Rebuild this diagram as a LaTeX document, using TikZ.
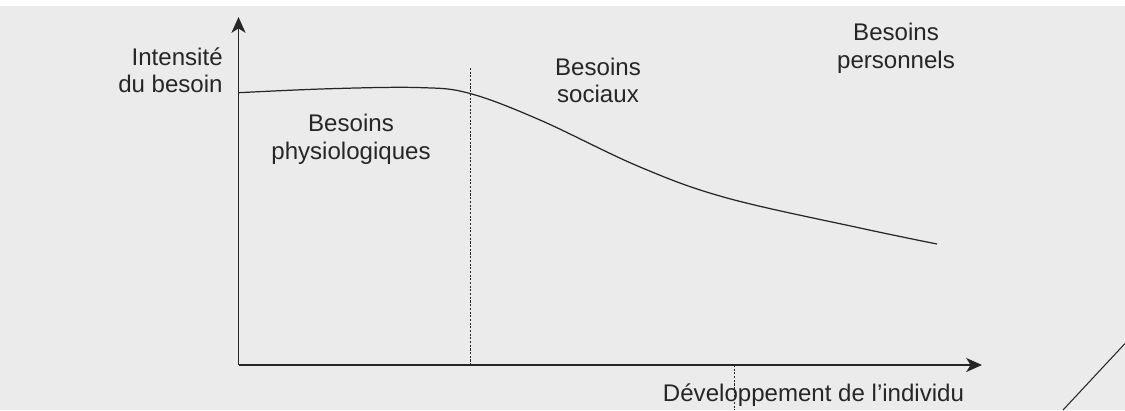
\documentclass[tikz,border=0pt]{standalone}
\usepackage{fontspec}
\setmainfont{Liberation Sans}
\usetikzlibrary{arrows.meta}
\definecolor{bggray}{HTML}{EBEBEB}
\definecolor{ink}{HTML}{262626}
\tikzset{
  lbl/.style={text=ink, inner sep=0pt, align=center, anchor=base,
    font=\fontsize{13.7}{15.6}\selectfont},
  axis/.style={draw=ink, line width=0.85pt, -{Stealth[length=9pt,width=8pt,inset=2.5pt]}},
  sep/.style={draw=ink, line width=0.5pt, dash pattern=on 1.2pt off 0.9pt}
}
\begin{document}
\begin{tikzpicture}[x=0.02cm,y=-0.02cm]
   \useasboundingbox (0,0) rectangle (1125,410);
   \fill[bggray] (0,6) rectangle (1125,410);
   % axes
   \coordinate (O) at (238.5,365);
   \coordinate (ytip) at (238.5,17);
   \coordinate (xtip) at (982,365);
   \draw[axis] (O) -- (ytip);
   \draw[axis] (O) -- (xtip);
   % separations
   \coordinate (s1top) at (470.5,68);
   \coordinate (s1bot) at (470.5,365);
   \coordinate (s2top) at (734,365);
   \coordinate (s2bot) at (734,410);
   \draw[sep] (s1top) -- (s1bot);
   \draw[sep] (s2top) -- (s2bot);
   % need curve
   \draw[ink, line width=0.7pt] plot[smooth, tension=0.6] coordinates {
     (238.5,92.7) (330,88.7) (420,87.6) (470,93.5) (540,120) (640,167)
     (727,198) (860,228) (937,244)};
   % corner stroke
   \coordinate (c1) at (1063,410);
   \coordinate (c2) at (1125,343.5);
   \draw[ink, line width=0.6pt] (c1) -- (c2);
   % labels (base = last line)
   \node[lbl, align=right, anchor=base east] (ylab) at (223,92.7) {Intensit\'e\\du besoin};
   \node[lbl] (physio) at (351,159) {Besoins\\physiologiques};
   \node[lbl] (social) at (598,102.7) {Besoins\\sociaux};
   \node[lbl] (perso) at (896,68) {Besoins\\personnels};
   \node[lbl] (xlab) at (813.5,401.7) {D\'eveloppement de l'individu};
\end{tikzpicture}
\end{document}
